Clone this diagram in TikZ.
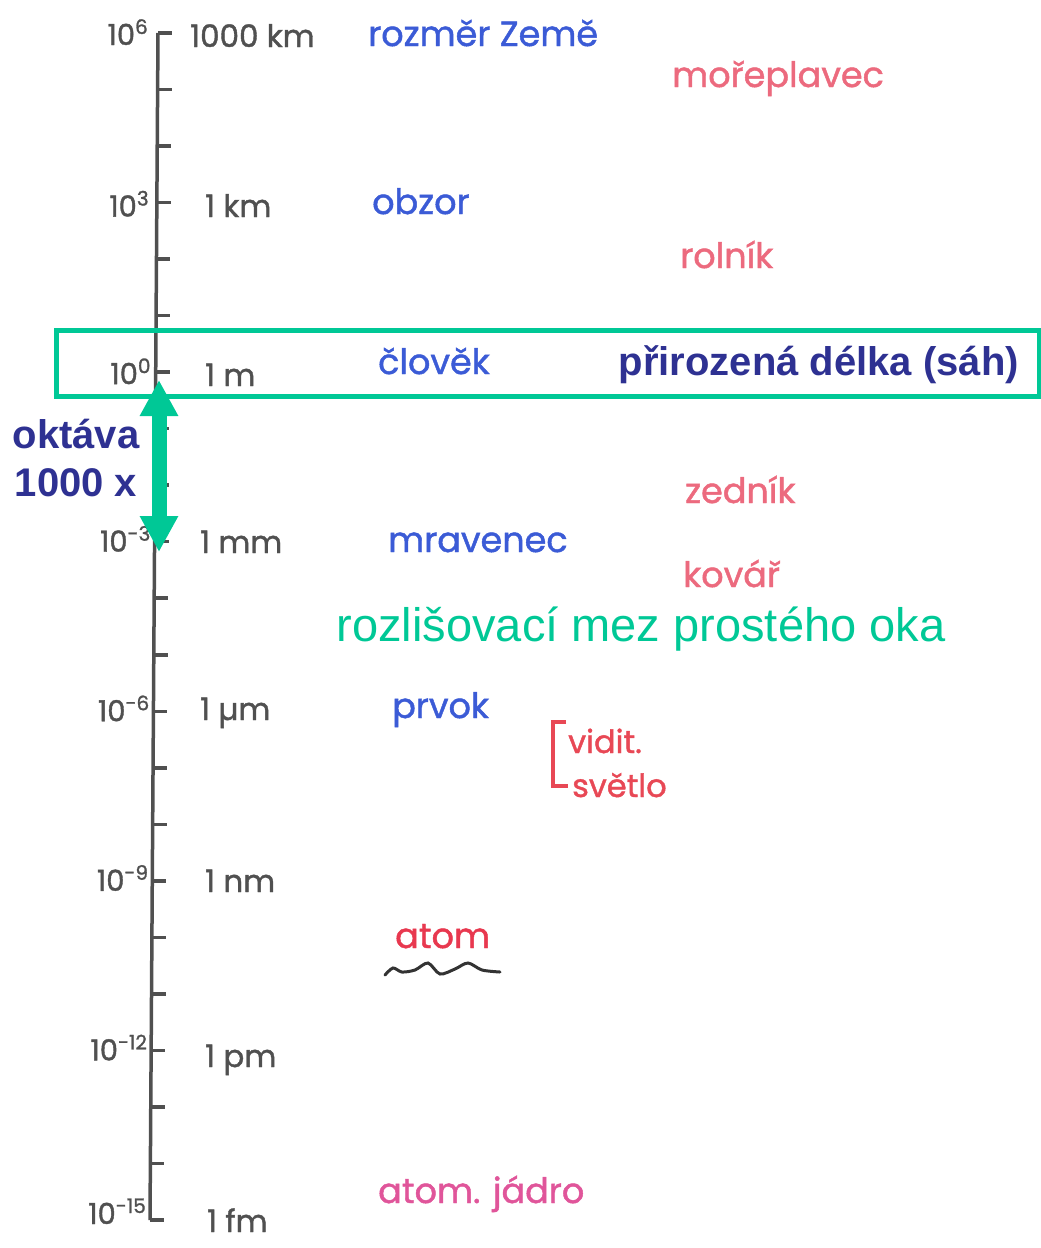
\documentclass[tikz,border=0pt]{standalone}
\usepackage{fontspec}
\setmainfont{Liberation Sans}
\newfontfamily\handfont{Poppins}[FakeBold=1.3]
\usetikzlibrary{positioning,arrows.meta,calc}
\definecolor{axisgray}{HTML}{505050}
\definecolor{handblue}{HTML}{3B5BD6}
\definecolor{handred}{HTML}{EC6A7E}
\definecolor{atomred}{HTML}{E8384F}
\definecolor{lightred}{HTML}{E84855}
\definecolor{corepink}{HTML}{E0559A}
\definecolor{eyegreen}{HTML}{00C896}
\definecolor{navy}{HTML}{2E3192}
\newcommand{\tenexp}[1]{10\raisebox{11pt}{\fontsize{20}{20}\selectfont #1}}

\begin{document}
\begin{tikzpicture}[x=1pt,y=-1pt,
        axis/.style={draw=axisgray, line width=3.5pt},
        expo/.style={font=\handfont\fontsize{29}{29}\selectfont, text=axisgray, anchor=base east, inner sep=0pt},
        unit/.style={font=\handfont\fontsize{31}{31}\selectfont, text=axisgray, anchor=base west, inner sep=0pt},
        thing/.style={font=\handfont\fontsize{35}{35}\selectfont, anchor=base west, inner sep=0pt},
        note/.style={font=\bfseries\fontsize{40}{48}\selectfont, text=navy, inner sep=0pt}
    ]
        \useasboundingbox (0,0) rectangle (1041,1248);

        \coordinate (axtop) at (158,33);
        \coordinate (axbot) at (150,1220);
        \draw[axis] (axtop) -- (axbot);
        \foreach \k in {0,...,21}
            \draw[axis] ($(axtop)!\k/21!(axbot)$) -- ++(14,0);

        \foreach \k/\e/\dx/\dy in {0/6/-10/12, 3/3/-8/14, 6/0/-5/12, 9/-3/-4/10, 12/-6/-4/10, 15/-9/-4/10, 18/-12/-4/10, 21/-15/-4/4}
            \node[expo] (e\k) at ($(axtop)!\k/21!(axbot)+(\dx,\dy)$) {\tenexp{\e}};

        \node[unit] (u6)   at (190,47)   {1000 km};
        \node[unit] (u3)   at (205,217)  {1 km};
        \node[unit] (u0)   at (205,386)  {1 m};
        \node[unit] (um3)  at (200,553)  {1 mm};
        \node[unit] (um6)  at (200,720)  {1 µm};
        \node[unit] (um9)  at (205,892)  {1 nm};
        \node[unit] (um12) at (205,1067) {1 pm};
        \node[unit] (um15) at (207,1232) {1 fm};

        \node[thing, text=handblue] (earth) at (368,46)  {rozměr Země};
        \node[thing, text=handblue] (hor)   at (372,214) {obzor};
        \node[thing, text=handblue] (man)   at (378,374) {člověk};
        \node[thing, text=handblue] (ant)   at (388,552) {mravenec};
        \node[thing, text=handblue] (cell)  at (392,718) {prvok};

        \node[thing, text=handred] (sail)  at (672,87)  {mořeplavec};
        \node[thing, text=handred] (farm)  at (680,268) {rolník};
        \node[thing, text=handred] (mason) at (685,503) {zedník};
        \node[thing, text=handred, text depth=0pt] (smith) at (683,587) {kovář};

        \node[thing, text=lightred, font=\handfont\fontsize{32}{32}\selectfont] (vis1) at (568,753) {vidit.};
        \node[thing, text=lightred, font=\handfont\fontsize{32}{32}\selectfont] (vis2) at (572,797) {světlo};
        \draw[lightred, line width=3.5pt] (566,722) -- (553,722) -- (553,786) -- (568,786);

        \node[thing, text=atomred] (atom) at (395,948) {atom};
        \draw[black!80, line width=3pt, line cap=round] plot[smooth] coordinates
            {(385,975) (393,968) (402,972) (415,970) (428,963) (440,974) (455,969) (468,963) (482,970) (500,972)};
        \node[thing, text=corepink] (core) at (378,1203) {atom. jádro};

        \draw[eyegreen, line width=5pt] (56,330) rectangle (1039,396);
        \node[note, anchor=east] (fathom) at (1019,365) {přirozená délka (sáh)};

        \coordinate (octtop) at (159,380);
        \coordinate (octbot) at (159,552);
        \draw[eyegreen, line width=15pt, {Triangle[length=36pt,width=36pt]}-{Triangle[length=36pt,width=36pt]}] (octtop) -- (octbot);
        \node[note, align=center] (oct) at (76,458) {oktáva\\1000 x};

        \node[font=\fontsize{47}{47}\selectfont, text=eyegreen, inner sep=0pt, anchor=base] (limit) at (641,641) {rozlišovací mez prostého oka};
    \end{tikzpicture}
\end{document}
